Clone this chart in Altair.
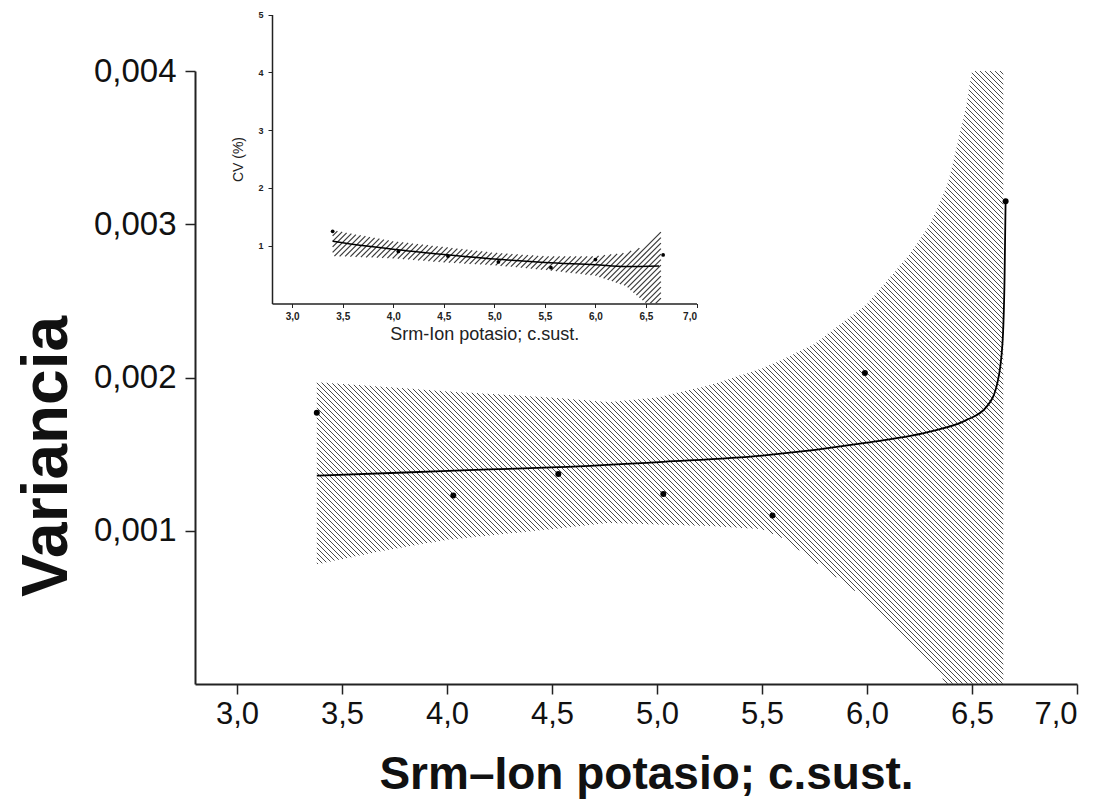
import numpy as np
import pandas as pd
import altair as alt

# ---------------- main chart data ----------------
main_x = [3.38, 4.03, 4.53, 5.03, 5.55, 5.99, 6.66]
main_var = [0.00177, 0.00123, 0.00137, 0.00124, 0.00110, 0.00203, 0.00315]

fit_x = [3.38, 3.8, 4.2, 4.53, 5.03, 5.5, 6.0, 6.31, 6.47, 6.57, 6.62, 6.645, 6.655, 6.66]
fit_var = [0.00136, 0.00138, 0.00140, 0.001415, 0.00145, 0.00149, 0.001575, 0.00165,
           0.00172, 0.00181, 0.00196, 0.00222, 0.00265, 0.00315]

band_x = [3.38, 3.7, 4.0, 4.5, 4.77, 5.0, 5.25, 5.5, 5.6, 5.75, 6.0, 6.2, 6.3, 6.38, 6.4, 6.47, 6.5, 6.65]
band_hi = [0.00197, 0.00194, 0.00191, 0.00187, 0.00184, 0.00187, 0.00195, 0.00206, 0.00212,
           0.00222, 0.00248, 0.00280, 0.00300, 0.00325, 0.00335, 0.00376, 0.00405, 0.00405]
band_lo = [0.00078, 0.00087, 0.00094, 0.00101, 0.00105, 0.00104, 0.00103, 0.00101, 0.00095,
           0.00080, 0.00055, 0.00028, 0.00014, 0.00000, -0.0001, -0.0002, -0.0003, -0.0005]

x_ticks = [3.0, 3.5, 4.0, 4.5, 5.0, 5.5, 6.0, 6.5, 7.0]
y_ticks = [0.001, 0.002, 0.003, 0.004]

# ---------------- inset data ----------------
ins_x = [3.40, 4.05, 4.54, 5.04, 5.56, 6.00, 6.67]
ins_cv = [1.25, 0.90, 0.82, 0.72, 0.62, 0.76, 0.84]
ins_fit_x = [3.4, 3.5, 4.0, 4.5, 5.0, 5.5, 6.0, 6.3, 6.63]
ins_fit = [1.08, 1.05, 0.94, 0.85, 0.77, 0.71, 0.67, 0.64, 0.65]
ins_band_x = [3.4, 4.0, 4.5, 5.0, 5.5, 6.0, 6.3, 6.5, 6.65]
ins_hi = [1.27, 1.08, 0.98, 0.88, 0.82, 0.82, 0.88, 1.0, 1.25]
ins_lo = [0.82, 0.78, 0.71, 0.66, 0.58, 0.48, 0.30, 0.0, -0.3]
ins_y_ticks = [1, 2, 3, 4, 5]

# ---------------- geometry ----------------
W, H = 882, 613
XDOM = [2.8, 7.0]
YDOM = [0.0, 0.004]
INS_XR = [77, 501.5]        # inset x range inside main plot area
INS_YR = [232.5, -56.4]     # inset y range (pixel of 0, pixel of 5)
INS_YDOM = [0, 5]
SANS = "Liberation Sans"


def hatch_segments(bx, blo, bhi, xdom, ydom, xr, yr, spacing, sign):
    bx = np.asarray(bx, float)
    lo = np.clip(np.asarray(blo, float), ydom[0], ydom[1])
    hi = np.clip(np.asarray(bhi, float), ydom[0], ydom[1])

    def xpx(x):
        return xr[0] + (x - xdom[0]) / (xdom[1] - xdom[0]) * (xr[1] - xr[0])

    def xdat(p):
        return xdom[0] + (p - xr[0]) / (xr[1] - xr[0]) * (xdom[1] - xdom[0])

    def ypx(y):
        return yr[0] + (y - ydom[0]) / (ydom[1] - ydom[0]) * (yr[1] - yr[0])

    def ydat(p):
        return ydom[0] + (p - yr[0]) / (yr[1] - yr[0]) * (ydom[1] - ydom[0])

    xs = np.arange(xpx(bx[0]), xpx(bx[-1]) + 1e-9, 0.25)
    xd = xdat(xs)
    lo_p = ypx(np.interp(xd, bx, lo))
    hi_p = ypx(np.interp(xd, bx, hi))
    top = np.minimum(lo_p, hi_p)
    bot = np.maximum(lo_p, hi_p)
    cs = np.concatenate([top - sign * xs, bot - sign * xs])
    cmin, cmax = cs.min(), cs.max()
    rows = []
    for c in np.arange(np.floor(cmin / spacing) * spacing, cmax + spacing, spacing):
        yp = sign * xs + c
        inside = (yp >= top) & (yp <= bot)
        edges = np.flatnonzero(np.diff(np.concatenate([[0], inside.astype(int), [0]])))
        for s, e in zip(edges[::2], edges[1::2]):
            if e - 1 > s:
                rows.append({"x1": xd[s], "y1": ydat(yp[s]),
                             "x2": xd[e - 1], "y2": ydat(yp[e - 1])})
    return pd.DataFrame(rows)


main_hatch = hatch_segments(band_x, band_lo, band_hi, XDOM, YDOM, [0, W], [H, 0], 5.0, 1)
ins_hatch = hatch_segments(ins_band_x, ins_lo, ins_hi, XDOM, INS_YDOM, INS_XR, INS_YR, 5.5, -1)

pts_df = pd.DataFrame({"x": main_x, "v": main_var})
fit_df = pd.DataFrame({"x": fit_x, "v": fit_var})
ipts_df = pd.DataFrame({"x": ins_x, "v": ins_cv})
ifit_df = pd.DataFrame({"x": ins_fit_x, "v": ins_fit})

# ---------------- main encodings ----------------
mx_scale = alt.Scale(domain=XDOM, nice=False, zero=False)
my_scale = alt.Scale(domain=YDOM, nice=False, zero=False)
mx_axis = alt.Axis(values=x_ticks, labelExpr="replace(format(datum.value, '.1f'), '.', ',')",
                   orient="bottom", grid=False, domainColor="#222", domainWidth=2,
                   tickColor="#222", tickWidth=1.5, tickSize=10,
                   labelFont=SANS, labelFontSize=31, labelColor="#111",
                   labelPadding=5, title="Srm\u2013Ion potasio; c.sust.",
                   titleFont=SANS, titleFontSize=46, titleFontWeight="bold",
                   titleColor="#111", titleX=451, titleY=104, titleAlign="center",
                   titleBaseline="alphabetic")
my_axis = alt.Axis(values=y_ticks, labelExpr="replace(format(datum.value, '.3f'), '.', ',')",
                   orient="left", grid=False, domainColor="#222", domainWidth=2,
                   tickColor="#222", tickWidth=1.5, tickSize=10,
                   labelFont=SANS, labelFontSize=33, labelColor="#111",
                   labelPadding=9, title="Variancia",
                   titleFont=SANS, titleFontSize=64, titleFontWeight="bold",
                   titleColor="#111", titleX=-148, titleY=385, titleAlign="center",
                   titleBaseline="middle", titleAngle=270)


def mX(f):
    return alt.X(f, type="quantitative", scale=mx_scale, axis=mx_axis)


def mY(f):
    return alt.Y(f, type="quantitative", scale=my_scale, axis=my_axis)


m_hatch = alt.Chart(main_hatch).mark_rule(color="#4a4a4a", strokeWidth=1).encode(
    x=mX("x1"), y=mY("y1"), x2="x2", y2="y2")
m_line = alt.Chart(fit_df).mark_line(color="#000", strokeWidth=1.8, interpolate="monotone").encode(
    x=mX("x"), y=mY("v"), order=alt.Order("x:Q"))
m_pts = alt.Chart(pts_df).mark_circle(color="#000", size=36, opacity=1).encode(
    x=mX("x"), y=mY("v"))
main_layer = alt.layer(m_hatch, m_line, m_pts)

# ---------------- inset encodings ----------------
ix_scale = alt.Scale(domain=XDOM, range=INS_XR, nice=False, zero=False)
iy_scale = alt.Scale(domain=INS_YDOM, range=INS_YR, nice=False, zero=False)
ix_axis = alt.Axis(values=x_ticks, labelExpr="replace(format(datum.value, '.1f'), '.', ',')",
                   orient="bottom", offset=-(H - INS_YR[0]), grid=False,
                   domainColor="#222", domainWidth=1.5, tickColor="#222", tickWidth=1, tickSize=4,
                   labelFont=SANS, labelFontSize=10, labelColor="#222", labelFontWeight="bold",
                   labelPadding=4, title="Srm-Ion potasio; c.sust.",
                   titleFont=SANS, titleFontSize=18, titleFontWeight="normal",
                   titleColor="#222", titlePadding=4)
iy_axis = alt.Axis(values=ins_y_ticks, format="d", orient="left", offset=-INS_XR[0], grid=False,
                   domainColor="#222", domainWidth=1.5, tickColor="#222", tickWidth=1, tickSize=4,
                   labelFont=SANS, labelFontSize=9, labelColor="#222", labelFontWeight="bold",
                   labelPadding=5, title="CV (%)",
                   titleFont=SANS, titleFontSize=14, titleFontWeight="normal",
                   titleColor="#222", titlePadding=12)


def iX(f):
    return alt.X(f, type="quantitative", scale=ix_scale, axis=ix_axis)


def iY(f):
    return alt.Y(f, type="quantitative", scale=iy_scale, axis=iy_axis)


i_hatch = alt.Chart(ins_hatch).mark_rule(color="#3a3a3a", strokeWidth=1.2).encode(
    x=iX("x1"), y=iY("y1"), x2="x2", y2="y2")
i_line = alt.Chart(ifit_df).mark_line(color="#000", strokeWidth=1.5, interpolate="monotone").encode(
    x=iX("x"), y=iY("v"), order=alt.Order("x:Q"))
i_pts = alt.Chart(ipts_df).mark_circle(color="#000", size=14, opacity=1).encode(
    x=iX("x"), y=iY("v"))
inset_layer = alt.layer(i_hatch, i_line, i_pts)

chart = alt.layer(main_layer, inset_layer).resolve_scale(
    x="independent", y="independent"
).properties(
    width=W, height=H,
    autosize=alt.AutoSizeParams(type="none"),
    padding={"left": 195, "top": 71, "right": 34, "bottom": 119},
    background="white",
).configure_view(stroke="transparent")

chart.save("out.html", embed_options={"renderer": "svg", "actions": False})
